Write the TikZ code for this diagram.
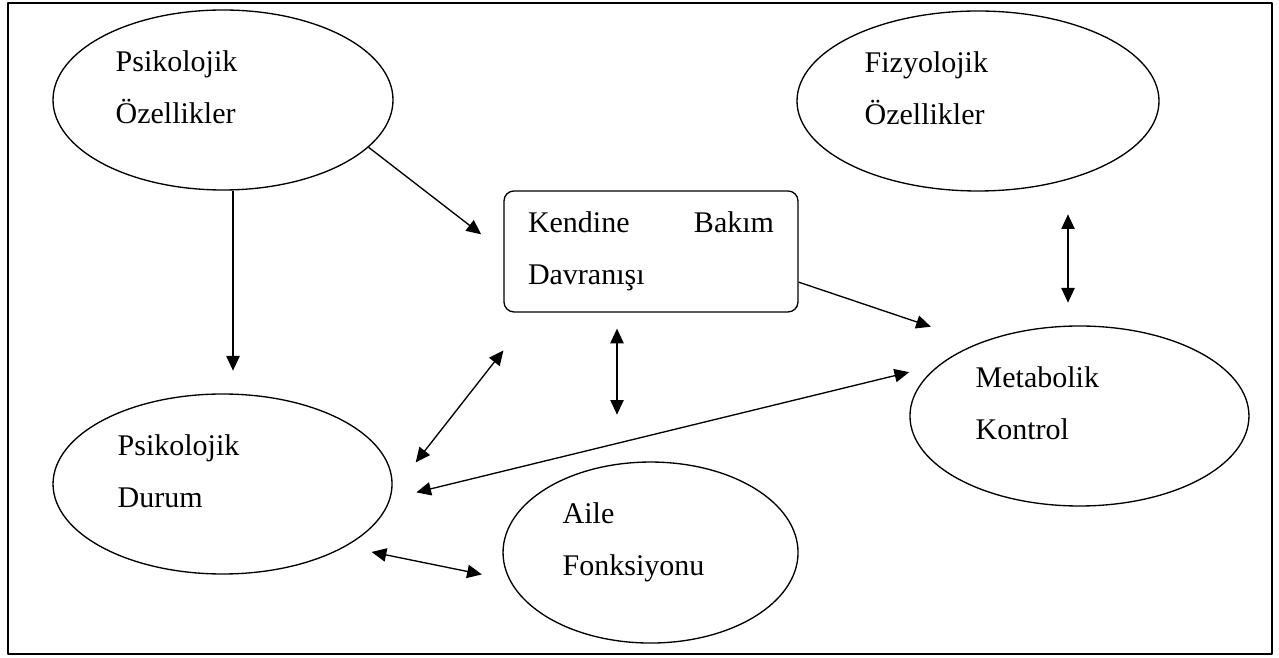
\documentclass[tikz,border=0pt]{standalone}
\usepackage{fontspec}
\setmainfont{Liberation Serif}
\usetikzlibrary{shapes.geometric,arrows.meta}

\tikzset{
  oval/.style={draw, ellipse, inner sep=0pt},
  lbl/.style={align=left, inner sep=0pt, anchor=base west,
    font=\fontsize{22.5bp}{39bp}\selectfont},
  rbox/.style={draw, rectangle, rounded corners=7.5bp, inner sep=0pt,
    minimum width=220.5bp, minimum height=90.75bp, text width=184.5bp,
    align=left, font=\fontsize{22.5bp}{39bp}\selectfont},
}

\begin{document}
\begin{tikzpicture}[>={Triangle[length=11bp,width=10bp]},line join=bevel]
  \pgfsetlinewidth{1bp}
  \useasboundingbox (0bp,0bp) rectangle (959.25bp,493.5bp);
  \draw [line width=1.5bp] (6bp,3bp) rectangle (954bp,491.25bp);
%%
  % Node: Psikolojik Ozellikler
  \node [oval, minimum width=255bp, minimum height=135bp] (pso) at (167.25bp,418.5bp) {};
  \node [lbl] (pso-t) at (86.25bp,400.5bp) {Psikolojik\\Özellikler};
  % Node: Fizyolojik Ozellikler
  \node [oval, minimum width=271.5bp, minimum height=135bp] (fiz) at (733.5bp,417.75bp) {};
  \node [lbl] (fiz-t) at (648bp,399.75bp) {Fizyolojik\\Özellikler};
  % Node: Kendine Bakim Davranisi
  \node [rbox] (kbd) at (488.25bp,304.9bp) {Kendine\hfill Bakım\\Davranışı};
  % Node: Metabolik Kontrol
  \node [oval, minimum width=254.25bp, minimum height=135bp] (met) at (809.6bp,181.5bp) {};
  \node [lbl] (met-t) at (731.25bp,163.5bp) {Metabolik\\Kontrol};
  % Node: Psikolojik Durum
  \node [oval, minimum width=254.25bp, minimum height=135bp] (dur) at (166.9bp,130.5bp) {};
  \node [lbl] (dur-t) at (87.75bp,112.5bp) {Psikolojik\\Durum};
  % Node: Aile Fonksiyonu
  \node [oval, minimum width=221.25bp, minimum height=135.75bp] (ail) at (487.9bp,79.1bp) {};
  \node [lbl] (ail-t) at (421.5bp,62bp) {Aile\\Fonksiyonu};
%
  % Edge: pso -> kbd
  \draw [->, shorten >=21bp] (pso.-18) -- (kbd.west);
  % Edge: pso -> dur
  \draw [->, shorten >=17bp] ([xshift=7.5bp]pso.south) -- ([xshift=7.5bp]pso.south |- dur.north);
  % Edge: kbd -> met
  \draw [->, shorten >=38bp] ([yshift=-23bp]kbd.east) -- (met.144);
  % Edge: fiz <-> met
  \draw [<->, shorten <=17bp, shorten >=17bp] ([xshift=-8.6bp]met.north |- fiz.south) -- ([xshift=-8.6bp]met.north);
  % Edge: kbd <-> ail
  \draw [<->, shorten <=12bp, shorten >=35bp] ([xshift=-25.5bp]kbd.south) -- ([xshift=-25.5bp]kbd.south |- ail.north);
  % Edge: dur <-> kbd
  \draw [<->, shorten <=29bp, shorten >=36bp] (dur.-3) -- ([xshift=-88.5bp]kbd.south);
  % Edge: dur <-> met
  \draw [<->, shorten <=20bp, shorten >=23bp] (dur.-5) -- (met.160);
  % Edge: dur <-> ail
  \draw [<->, shorten <=20bp, shorten >=21bp] (dur.-27) -- (ail.-169);
%
\end{tikzpicture}
\end{document}
